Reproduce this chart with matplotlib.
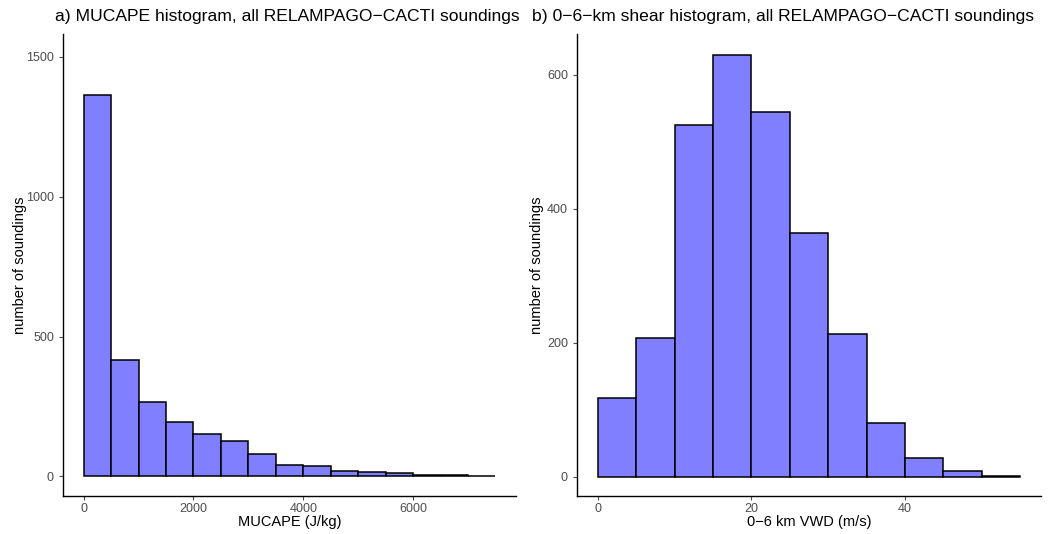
import numpy as np
import matplotlib
matplotlib.use("Agg")
import matplotlib.pyplot as plt

plt.rcParams['font.family'] = ['Liberation Sans', 'DejaVu Sans']

# MUCAPE histogram, 500 J/kg bins
cape_edges = np.arange(0, 7501, 500)
cape_counts = [1364, 418, 265, 195, 151, 126, 79, 42, 36, 18, 17, 11, 5, 5, 2]

# 0-6 km bulk shear histogram, 5 m/s bins
shear_edges = np.arange(0, 56, 5)
shear_counts = [117, 207, 525, 629, 544, 363, 213, 80, 27, 8, 1]

W, H = 1061, 534
fig = plt.figure(figsize=(W / 100, H / 100), dpi=100)

fill = '#7F7FFF'
grey = '#4D4D4D'


def px_axes(x0, x1, y0, y1):
    return fig.add_axes([x0 / W, 1 - y1 / H, (x1 - x0) / W, (y1 - y0) / H])


def style(ax):
    for s in ['top', 'right']:
        ax.spines[s].set_visible(False)
    for s in ['left', 'bottom']:
        ax.spines[s].set_linewidth(1.0)
        ax.spines[s].set_color('black')
    ax.tick_params(colors=grey, labelsize=9, length=3, width=0.8,
                   labelcolor=grey)
    ax.tick_params(axis='x', pad=2)
    ax.set_facecolor('white')


ax1 = px_axes(63, 516, 34, 496)
ax1.bar(cape_edges[:-1], cape_counts, width=500, align='edge',
        color=fill, edgecolor='black', linewidth=1.1)
ax1.set_xlim(-375, 7875)
ax1.set_ylim(-70, 1582)
ax1.set_xticks([0, 2000, 4000, 6000])
ax1.set_yticks([0, 500, 1000, 1500])
ax1.set_xlabel('MUCAPE (J/kg)', fontsize=10.5, labelpad=0)
ax1.set_ylabel('number of soundings', fontsize=10.5, labelpad=-1)
style(ax1)

ax2 = px_axes(577, 1041, 34, 496)
ax2.bar(shear_edges[:-1], shear_counts, width=5, align='edge',
        color=fill, edgecolor='black', linewidth=1.1)
ax2.set_xlim(-2.75, 57.75)
ax2.set_ylim(-29, 660.5)
ax2.set_xticks([0, 20, 40])
ax2.set_yticks([0, 200, 400, 600])
ax2.set_xlabel('0\u22126 km VWD (m/s)', fontsize=10.5, labelpad=0)
ax2.set_ylabel('number of soundings', fontsize=10.5, labelpad=2)
style(ax2)

fig.text(55 / W, 1 - 17 / H,
         'a) MUCAPE histogram, all RELAMPAGO\u2212CACTI soundings',
         fontsize=12.6, ha='left', va='center')
fig.text(532 / W, 1 - 17 / H,
         'b) 0\u22126\u2212km shear histogram, all RELAMPAGO\u2212CACTI soundings',
         fontsize=12.6, ha='left', va='center')

fig.savefig('out.png', dpi=100, facecolor='white')
